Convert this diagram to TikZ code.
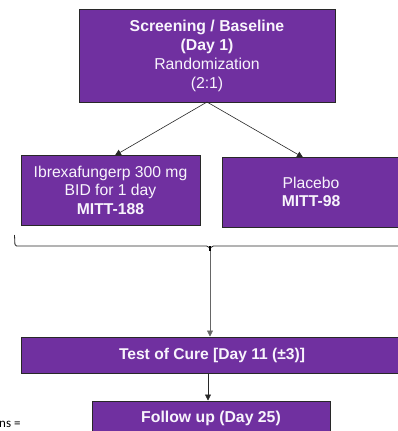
\documentclass[tikz,border=0pt]{standalone}
\usepackage{fontspec}
\setmainfont{Liberation Sans}
\newfontfamily\calibrifont{Carlito}
\usetikzlibrary{arrows.meta}
\definecolor{boxpurple}{RGB}{112,48,160}
\definecolor{boxtext}{RGB}{248,244,252}
\definecolor{linegray}{RGB}{40,40,40}
\tikzset{
  pbox/.style={draw=linegray, line width=0.9pt, fill=boxpurple, text=boxtext, align=center, inner sep=0pt},
  conn/.style={draw=linegray, line width=0.6pt, -{Triangle[length=6pt,width=6pt]}},
}
\begin{document}
\begin{tikzpicture}[x=1pt,y=-1pt]
\clip (0,0) rectangle (398,431);
\fill[white] (0,0) rectangle (398,431);
\node[pbox, minimum width=256pt, minimum height=93pt, font=\fontsize{15.8}{19}\selectfont] (top) at (207,55.5)
  {\textbf{Screening / Baseline}\\\textbf{(Day 1)}\\Randomization\\(2:1)};
\node[pbox, minimum width=179pt, minimum height=70pt, font=\fontsize{15.7}{18.5}\selectfont] (left) at (110.5,190)
  {Ibrexafungerp 300 mg\\BID for 1 day\\\textbf{MITT-188}};
\node[pbox, minimum width=178pt, minimum height=70pt, font=\fontsize{15.7}{18.5}\selectfont] (right) at (311,192)
  {Placebo\\\textbf{MITT-98}};
\node[pbox, minimum width=382pt, minimum height=36pt, font=\bfseries\fontsize{15.6}{18}\selectfont] (test) at (212,355)
  {Test of Cure [Day 11 (±3)]};
\node[pbox, minimum width=238pt, minimum height=34pt, font=\bfseries\fontsize{15.8}{18}\selectfont] (follow) at (211,418)
  {Follow up (Day 25)};
\node[anchor=west, inner sep=0pt, font=\calibrifont\fontsize{13}{15}\selectfont] (ns) at (-1,424) {ns =};
\coordinate (split) at (207,102);
\draw[conn] (split) -- (115,155.4);
\draw[conn] (split) -- (303,157.4);
% brace
\coordinate (bl) at (14.5,235);
\coordinate (btip) at (210,251);
\draw[linegray, line width=0.8pt, rounded corners=1.5pt] (bl) -- (15,246) -- (208,246) -- (210,249) -- (212,246) -- (402,246);
\draw[black, line width=1.6pt] (210,246) -- (btip);
\draw[conn, draw=gray!80!black] (btip) -- (210,336.5);
\draw[conn] (208,373.5) -- (208,400.5);
\end{tikzpicture}
\end{document}
